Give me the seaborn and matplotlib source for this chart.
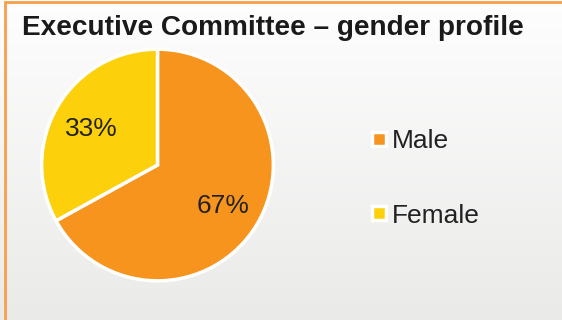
import numpy as np
import matplotlib
matplotlib.use("Agg")
import matplotlib.pyplot as plt
from matplotlib.lines import Line2D
from matplotlib.patches import Rectangle
import seaborn as sns

# Gender split of the executive committee (percent)
categories = ["Male", "Female"]
shares = [67, 33]
colors = ["#F7941E", "#FCD00A"]
title = "Executive Committee \u2013 gender profile"

sns.set_theme(style="white")
plt.rcParams["font.family"] = ["Liberation Sans", "DejaVu Sans"]

W, H = 5.62, 3.20
fig = plt.figure(figsize=(W, H), dpi=100)

# Panel background: soft vertical gradient from white to light grey
bg = fig.add_axes([0, 0, 1, 1], zorder=0)
grad = np.linspace(0, 1, 256).reshape(-1, 1)
top = np.array([0.995, 0.995, 0.995])
bot = np.array([0.918, 0.918, 0.914])
img = top + (bot - top) * grad[..., None]
bg.imshow(img, aspect="auto", extent=[0, 1, 0, 1], origin="upper")
bg.set_xlim(0, 1)
bg.set_ylim(0, 1)
bg.axis("off")

# Orange frame (left and top edges visible)
fig.patches.append(Rectangle((4.5 / 562, -0.05), 1.2, 1.05 - 1.5 / 320,
                             transform=fig.transFigure, fill=False,
                             edgecolor="#F7A04A", linewidth=2.0, zorder=1))

fig.text(22 / 562, 1 - 28 / 320, title, fontsize=20.2, fontweight="bold",
         color="#1a1a1a", ha="left", va="center")

# Pie
cx, cy, r = 157.5, 165, 117
ax = fig.add_axes([(cx - r) / 562, 1 - (cy + r) / 320, 2 * r / 562, 2 * r / 320], zorder=2)
wedges, texts, autotexts = ax.pie(
    shares, colors=colors, startangle=90, counterclock=False,
    autopct="%.0f%%", pctdistance=0.66,
    wedgeprops=dict(edgecolor="white", linewidth=2.5),
    textprops=dict(fontsize=19, color="#222222"))
for t in autotexts:
    t.set_va("center_baseline")
ax.set_aspect("equal")
ax.set_xlim(-1.01, 1.01)
ax.set_ylim(-1.01, 1.01)
ax.axis("off")

handles = [Line2D([], [], linestyle="none", marker="s", markersize=10,
                  markerfacecolor=c, markeredgecolor="white", markeredgewidth=2.5)
           for c in colors]
leg = fig.legend(handles, categories, loc="upper left",
                 bbox_to_anchor=(369.5 / 562, 1 - 129.5 / 320),
                 frameon=False, fontsize=19, handlelength=0.7, handletextpad=0.15,
                 labelspacing=1.9, borderpad=0, borderaxespad=0)
for t in leg.get_texts():
    t.set_color("#222222")

fig.savefig("out.png", dpi=100)
